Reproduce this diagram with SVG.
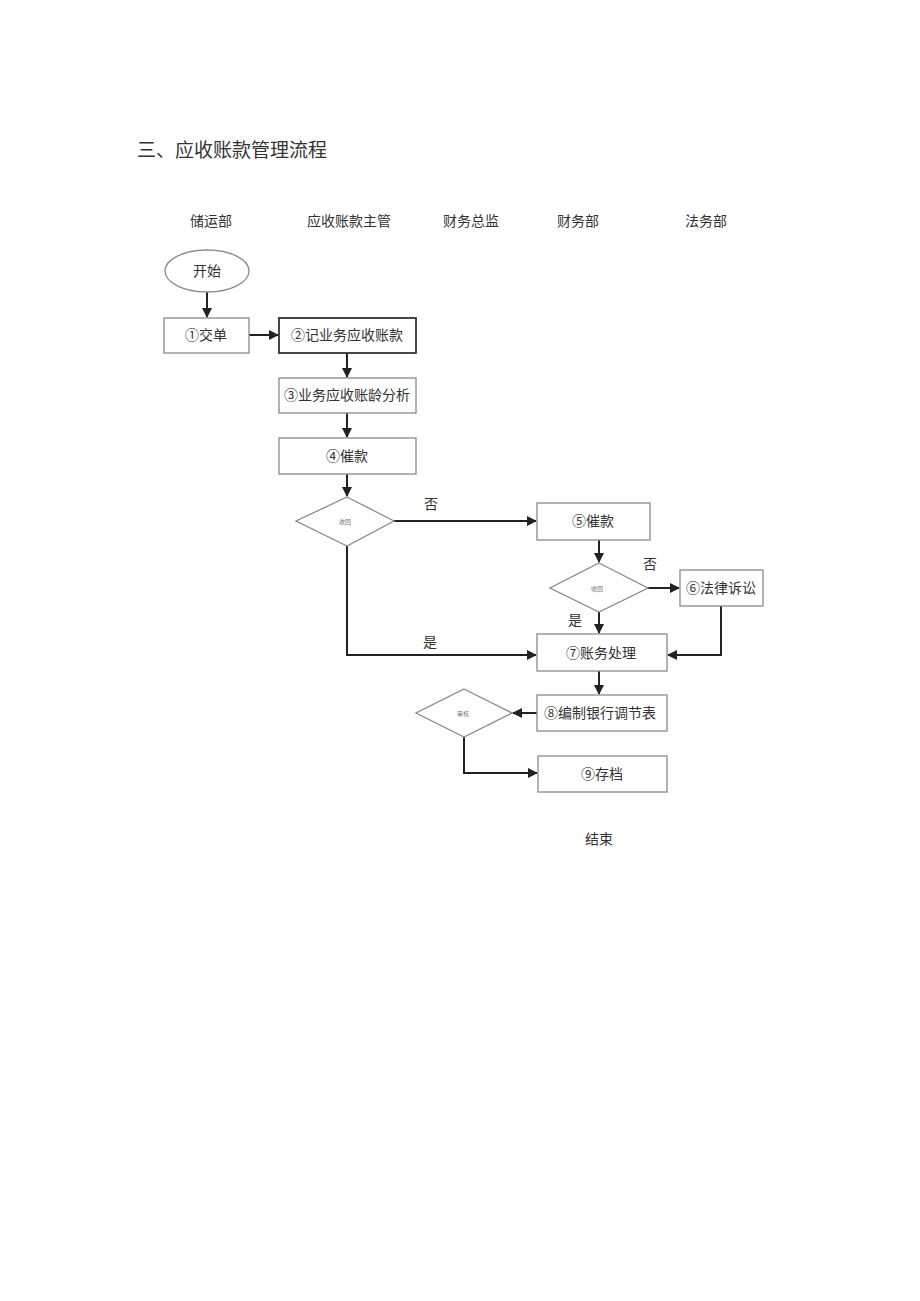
<svg xmlns="http://www.w3.org/2000/svg" width="920" height="1301" viewBox="0 0 920 1301">
<style>
text{font-family:"Liberation Serif","Noto Sans CJK SC",serif;fill:#333;}
.t{font-size:14px;text-anchor:middle;}
.h{font-size:14px;text-anchor:middle;}
.box{fill:#fff;stroke:#8a8a8a;stroke-width:1.3;}
.dia{fill:#fff;stroke:#8a8a8a;stroke-width:1.3;}
.c{fill:none;stroke:#222;stroke-width:2;marker-end:url(#ah);}
.s{font-size:6px;text-anchor:middle;fill:#777;}
</style>
<defs>
<marker id="ah" viewBox="0 0 10 10" refX="9" refY="5" markerWidth="5" markerHeight="5" orient="auto" markerUnits="strokeWidth">
<path d="M0,0 L10,5 L0,10 z" fill="#222"/>
</marker>
</defs>
<rect width="920" height="1301" fill="#fff"/>
<text x="137" y="157" style="font-size:19px;">三、应收账款管理流程</text>
<g id="headers">
<text class="h" x="211" y="226">储运部</text>
<text class="h" x="349" y="226">应收账款主管</text>
<text class="h" x="471" y="226">财务总监</text>
<text class="h" x="578" y="226">财务部</text>
<text class="h" x="706" y="226">法务部</text>
</g>
<g id="connectors">
<path class="c" d="M207,292 V317"/>
<path class="c" d="M249,335 H278"/>
<path class="c" d="M347,353 V377"/>
<path class="c" d="M347,413 V437"/>
<path class="c" d="M347,474 V496"/>
<path class="c" d="M394,521 H536"/>
<path class="c" d="M599,540 V562"/>
<path class="c" d="M648,588 H679"/>
<path class="c" d="M599,612 V633"/>
<path class="c" d="M347,546 V655 H536"/>
<path class="c" d="M721,606 V655 H668"/>
<path class="c" d="M599,671 V694"/>
<path class="c" d="M537,713 H513"/>
<path class="c" d="M464,737 V773 H537"/>
<text class="t" x="431" y="509">否</text>
<text class="t" x="650" y="569">否</text>
<text class="t" x="575" y="625">是</text>
<text class="t" x="430" y="647">是</text>
</g>
<g id="start">
<ellipse cx="207" cy="271" rx="42" ry="21" class="box"/>
<text class="t" x="207" y="276">开始</text>
</g>
<g id="n1">
<rect class="box" x="164" y="318" width="85" height="35"/>
<text class="t" x="206" y="340">①交单</text>
</g>
<g id="n2">
<rect x="279" y="318" width="137" height="35" fill="#fff" stroke="#333" stroke-width="1.8"/>
<text class="t" x="347" y="340">②记业务应收账款</text>
</g>
<g id="n3">
<rect class="box" x="279" y="378" width="137" height="35"/>
<text class="t" x="347" y="400">③业务应收账龄分析</text>
</g>
<g id="n4">
<rect class="box" x="279" y="438" width="137" height="36"/>
<text class="t" x="347" y="461">④催款</text>
</g>
<g id="d1">
<polygon class="dia" points="347,497 394,521 347,546 296,521"/>
<text class="s" x="345" y="524">收回</text>
</g>
<g id="n5">
<rect class="box" x="537" y="503" width="113" height="37"/>
<text class="t" x="593" y="526">⑤催款</text>
</g>
<g id="d2">
<polygon class="dia" points="599,563 648,588 599,612 550,588"/>
<text class="s" x="597" y="591">收回</text>
</g>
<g id="n6">
<rect class="box" x="680" y="570" width="83" height="36"/>
<text class="t" x="721" y="593">⑥法律诉讼</text>
</g>
<g id="n7">
<rect class="box" x="537" y="634" width="130" height="37"/>
<text class="t" x="601" y="658">⑦账务处理</text>
</g>
<g id="n8">
<rect class="box" x="537" y="695" width="130" height="36"/>
<text class="t" x="600" y="718">⑧编制银行调节表</text>
</g>
<g id="d3">
<polygon class="dia" points="464,689 512,713 464,737 416,713"/>
<text class="s" x="463" y="716">审核</text>
</g>
<g id="n9">
<rect class="box" x="538" y="756" width="129" height="36"/>
<text class="t" x="602" y="779">⑨存档</text>
</g>
<g id="end">
<text class="t" x="599" y="844">结束</text>
</g>
</svg>
